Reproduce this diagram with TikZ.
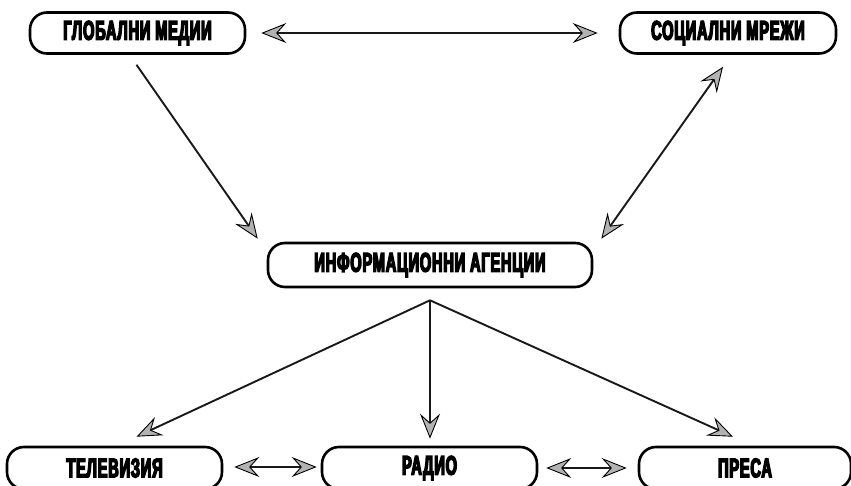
\documentclass[tikz,border=0pt]{standalone}
\usepackage{fontspec}
\newfontfamily\boxfont[FakeStretch=0.54,FakeBold=5,LetterSpace=3]{Liberation Sans Bold}
\usetikzlibrary{arrows.meta,calc}
\begin{document}
\begin{tikzpicture}[x=1pt,y=-1pt,
  mbox/.style={draw=black,line width=2.6pt,rounded corners=17pt,minimum height=41pt,
    inner sep=0pt,font=\boxfont\fontsize{27}{27}\selectfont,text=black},
  tipg/.tip={Stealth[length=25pt,width=20pt,inset=9pt,fill=gray!60,color=black,line width=0.9pt]},
  conn/.style={line width=1.9pt,draw=black!90},
  one/.style={conn,-{tipg}},
  two/.style={conn,{tipg}-{tipg}}]
\clip (0,0) rectangle (851,486);
\fill[white] (0,0) rectangle (851,486);
\node[mbox,minimum width=215pt] (gm) at (137.5,33) {ГЛОБАЛНИ МЕДИИ};
\node[mbox,minimum width=216pt] (sm) at (728,33) {СОЦИАЛНИ МРЕЖИ};
\node[mbox,minimum width=324pt,minimum height=44pt] (ia) at (430,265) {ИНФОРМАЦИОННИ АГЕНЦИИ};
\node[mbox,minimum width=215pt,minimum height=42pt] (tv) at (114.5,468) {ТЕЛЕВИЗИЯ};
\node[mbox,minimum width=215pt,minimum height=42pt] (ra) at (429.5,468) {РАДИО};
\node[mbox,minimum width=212pt,minimum height=42pt] (pr) at (745,468) {ПРЕСА};
\coordinate (apex) at ($(ia.south)+(0,12)$);
% top horizontal
\draw[two] ($(gm.east)+(15,0)$) -- ($(sm.west)+(-21,0)$);
% diagonals to agencies
\draw[one] ($(gm.south)+(-1,10)$) -- ($(ia.north west)+(-9,-3)$);
\draw[two] ($(ia.north east)+(8,-3)$) -- ($(sm.south)+(-5,12)$);
% from agencies
\draw[one] (apex) -- ($(tv.north)+(22,-9)$);
\draw[one] (apex) -- ($(ra.north)+(0.5,-7)$);
\draw[one] (apex) -- ($(pr.north)+(-12,-9)$);
% bottom horizontals
\draw[two] ($(tv.east)+(11,-1)$) -- ($(ra.west)+(-4,-1)$);
\draw[two] ($(ra.east)+(8,0)$) -- ($(pr.west)+(-11,0)$);
\end{tikzpicture}
\end{document}
